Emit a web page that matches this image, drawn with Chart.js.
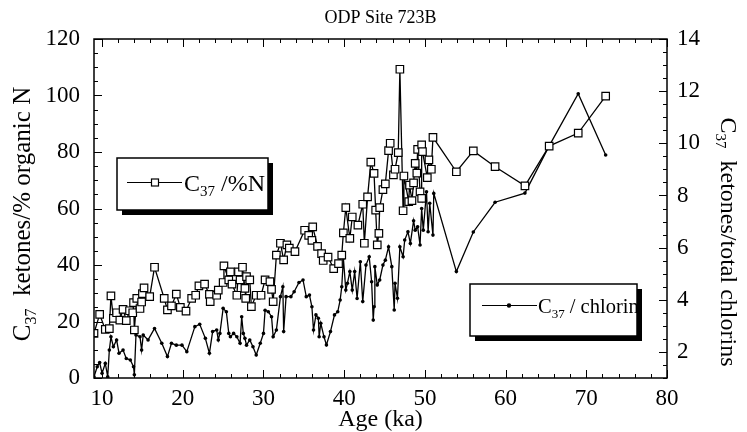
<!DOCTYPE html>
<html>
<head>
<meta charset="utf-8">
<script src="https://cdn.jsdelivr.net/npm/chart.js@4.4.1/dist/chart.umd.min.js"></script>
<style>
  html, body { margin: 0; padding: 0; background: #fff; }
</style>
</head>
<body>
<canvas id="chart" width="747" height="432"></canvas>
<script>
// C37 ketones / % organic N (left axis)
const ageN = [
  9.0, 9.7, 10.4, 10.9, 11.1, 11.4, 11.8, 12.2, 12.6, 13.0, 13.4, 13.8, 13.9, 14.0, 14.3, 14.7, 14.9, 15.0, 15.2, 15.9,
  16.5, 17.7, 18.1, 18.6, 19.2, 19.7, 20.4, 21.1, 21.6, 22.0, 22.7, 23.3, 23.4, 24.2, 24.4, 25.0, 25.1, 25.7, 25.9, 26.1,
  26.7, 26.9, 27.1, 27.4, 27.7, 27.8, 27.9, 28.3, 28.5, 29.1, 29.7, 30.2, 30.8, 31.0, 31.2, 31.6, 32.1, 32.5, 32.9, 33.2,
  33.9, 35.1, 35.6, 36.0, 36.1, 36.7, 37.2, 37.4, 38.0, 38.7, 39.3, 39.7, 39.9, 40.2, 40.7, 41.0, 41.7, 42.3, 42.5, 42.9,
  43.3, 43.7, 43.9, 44.1, 44.3, 44.4, 44.8, 45.1, 45.5, 45.7, 46.1, 46.3, 46.7, 46.9, 47.3, 47.4, 48.0, 48.1, 48.4, 48.6,
  48.8, 49.0, 49.1, 49.4, 49.6, 49.6, 49.7, 50.3, 50.5, 50.8, 51.0, 53.9, 56.0, 58.7, 62.4, 65.4, 69.0, 72.4
];
const ketN = [
  15.8, 22.5, 17.2, 17.5, 29.1, 21.1, 23.1, 20.5, 24.3, 20.3, 23.8, 23.1, 26.7, 17.0, 28.2, 24.6, 26.9, 29.9, 31.9, 28.8,
  39.2, 28.2, 24.1, 25.5, 29.7, 25.0, 23.7, 28.2, 29.3, 32.6, 33.2, 29.6, 27.0, 29.3, 31.1, 33.8, 39.7, 34.7, 37.6, 33.2,
  29.3, 37.6, 34.7, 39.2, 31.7, 28.2, 35.9, 34.7, 25.3, 29.3, 29.3, 34.7, 34.1, 31.4, 27.0, 43.5, 47.7, 41.8, 47.1, 46.0,
  44.7, 52.3, 50.5, 48.7, 53.5, 46.6, 44.0, 41.6, 42.8, 38.7, 40.5, 43.5, 51.4, 60.3, 49.4, 57.0, 54.1, 61.5, 47.7, 64.1,
  76.4, 72.4, 59.4, 47.1, 51.2, 60.3, 66.7, 68.7, 80.5, 83.1, 71.9, 73.9, 79.8, 109.3, 59.2, 71.5, 62.4, 68.3, 62.8, 69.1,
  76.0, 72.5, 80.9, 65.9, 63.6, 82.5, 80.1, 70.9, 77.2, 73.9, 85.2, 73.0, 80.4, 74.8, 68.0, 82.1, 86.7, 99.8
];

// C37 ketones / total chlorins (right axis)
const ageChl = [
  9.0, 9.4, 9.7, 10.0, 10.4, 10.7, 10.9, 11.1, 11.4, 11.8, 12.1, 12.6, 13.0, 13.5, 13.9, 14.0, 14.2, 14.7, 14.9, 15.1,
  15.7, 16.5, 17.4, 18.1, 18.6, 19.2, 19.9, 20.5, 21.5, 22.1, 22.8, 23.3, 23.7, 24.2, 24.4, 24.6, 25.0, 25.4, 25.7, 25.9,
  26.3, 26.7, 27.1, 27.3, 27.5, 27.7, 27.9, 28.3, 28.7, 29.1, 29.6, 30.0, 30.2, 30.6, 31.0, 31.2, 31.6, 32.1, 32.4, 32.5,
  32.8, 33.4, 33.8, 34.4, 34.9, 35.3, 35.7, 36.0, 36.2, 36.5, 36.8, 36.9, 37.1, 37.5, 37.8, 38.3, 38.8, 39.2, 39.5, 39.7,
  39.9, 40.2, 40.4, 40.7, 41.0, 41.3, 41.6, 42.0, 42.3, 42.7, 43.1, 43.4, 43.6, 43.7, 43.8, 44.1, 44.4, 44.8, 45.1, 45.5,
  45.9, 46.2, 46.3, 46.6, 46.9, 47.3, 47.5, 47.9, 48.2, 48.6, 48.8, 49.1, 49.4, 49.6, 49.8, 50.2, 50.4, 50.6, 51.0, 51.1,
  53.9, 56.0, 58.7, 62.4, 65.4, 69.0, 72.4
];
const ketChl = [
  1.05, 1.43, 1.59, 1.18, 1.56, 1.05, 2.07, 2.58, 2.20, 2.46, 1.95, 2.07, 1.75, 1.69, 1.43, 1.12, 2.65, 2.58, 2.07, 2.65,
  2.46, 2.90, 2.33, 1.82, 2.33, 2.26, 2.26, 2.01, 2.97, 3.06, 2.52, 1.95, 2.78, 2.84, 2.46, 2.71, 3.67, 3.54, 2.71, 2.58,
  2.71, 2.58, 2.33, 3.35, 2.71, 2.52, 2.26, 2.46, 2.20, 1.88, 2.33, 2.71, 3.60, 3.54, 3.35, 2.58, 2.84, 4.12, 4.50, 2.78,
  4.12, 4.12, 4.31, 4.66, 4.76, 4.12, 4.18, 3.73, 2.84, 3.42, 3.29, 2.58, 3.10, 2.58, 2.27, 2.78, 3.42, 3.54, 3.99, 4.50,
  5.59, 4.37, 4.63, 5.08, 4.37, 5.08, 4.05, 5.46, 3.93, 5.33, 5.65, 4.69, 3.22, 3.73, 5.27, 4.57, 4.76, 5.33, 5.52, 6.03,
  5.27, 3.61, 4.63, 4.06, 6.03, 5.65, 6.29, 6.61, 6.16, 7.03, 6.67, 6.80, 6.10, 7.50, 6.67, 8.14, 6.61, 7.70, 6.48, 8.08,
  5.08, 6.60, 7.74, 8.09, 9.90, 11.90, 9.55
];

const xTicks = [10, 20, 30, 40, 50, 60, 70, 80];
const leftTicks = [0, 20, 40, 60, 80, 100, 120];
const rightTicks = [2, 4, 6, 8, 10, 12, 14];

const serif = "'Liberation Serif', 'Times New Roman', serif";
Chart.defaults.font.family = serif;
Chart.defaults.color = "#000";

// text with a subscript part, parts = [[text, isSub], ...]
function drawRich(ctx, parts, x, y, size, align) {
  const subSize = Math.round(size * 0.62);
  let total = 0;
  parts.forEach(([t, sub]) => {
    ctx.font = `${sub ? subSize : size}px ${serif}`;
    total += ctx.measureText(t).width;
  });
  let cx = align === "center" ? x - total / 2 : x;
  ctx.fillStyle = "#000";
  ctx.textBaseline = "alphabetic";
  ctx.textAlign = "left";
  parts.forEach(([t, sub]) => {
    ctx.font = `${sub ? subSize : size}px ${serif}`;
    ctx.fillText(t, cx, sub ? y + size * 0.22 : y);
    cx += ctx.measureText(t).width;
  });
}

function legendBox(ctx, x, y, w, h) {
  ctx.fillStyle = "#000";
  ctx.fillRect(x + 5, y + 5, w, h);
  ctx.fillStyle = "#fff";
  ctx.fillRect(x, y, w, h);
  ctx.strokeStyle = "#000";
  ctx.lineWidth = 1.5;
  ctx.strokeRect(x, y, w, h);
  ctx.fillStyle = "#000";
}

const decorations = {
  id: "decorations",
  afterDatasetsDraw(chart) {
    const { ctx, chartArea: a, scales } = chart;
    ctx.save();
    ctx.strokeStyle = "#000";
    ctx.lineWidth = 1;
    ctx.beginPath();
    for (let v = 10; v <= 80; v += 2) {
      const px = Math.round(scales.x.getPixelForValue(v)) + 0.5;
      const len = v % 10 === 0 ? 8 : 4;
      ctx.moveTo(px, a.bottom); ctx.lineTo(px, a.bottom - len);
      ctx.moveTo(px, a.top); ctx.lineTo(px, a.top + len);
    }
    for (let v = 0; v <= 120; v += 5) {
      const py = Math.round(scales.y.getPixelForValue(v)) + 0.5;
      const len = v % 20 === 0 ? 8 : 4;
      ctx.moveTo(a.left, py); ctx.lineTo(a.left + len, py);
    }
    for (let v = 1; v <= 14; v += 0.5) {
      const py = Math.round(scales.y2.getPixelForValue(v)) + 0.5;
      const len = v % 2 === 0 ? 8 : 4;
      ctx.moveTo(a.right, py); ctx.lineTo(a.right - len, py);
    }
    ctx.stroke();
    ctx.lineWidth = 1.5;
    ctx.strokeRect(a.left, a.top, a.right - a.left, a.bottom - a.top);

    // legend boxes
    legendBox(ctx, 117, 158, 151, 52);
    ctx.lineWidth = 1.2;
    ctx.beginPath();
    ctx.moveTo(127, 182.5); ctx.lineTo(182, 182.5);
    ctx.stroke();
    ctx.fillStyle = "#fff";
    ctx.fillRect(151.5, 179, 7, 7);
    ctx.strokeRect(151.5, 179, 7, 7);
    drawRich(ctx, [["C", false], ["37", true], [" /%N", false]], 184, 191, 24, "left");

    legendBox(ctx, 470, 284, 167, 52);
    ctx.lineWidth = 1.2;
    ctx.beginPath();
    ctx.moveTo(482, 305.5); ctx.lineTo(537, 305.5);
    ctx.stroke();
    ctx.beginPath();
    ctx.arc(509, 305.5, 2.2, 0, Math.PI * 2);
    ctx.fill();
    drawRich(ctx, [["C", false], ["37", true], [" / chlorin", false]], 538, 313, 20.5, "left");

    // title and axis titles
    drawRich(ctx, [["ODP Site 723B", false]], (a.left + a.right) / 2, 23, 18, "center");
    drawRich(ctx, [["Age (ka)", false]], (a.left + a.right) / 2, 426, 24, "center");

    ctx.save();
    ctx.translate(30, 214);
    ctx.rotate(-Math.PI / 2);
    drawRich(ctx, [["C", false], ["37", true], ["  ketones/% organic N", false]], 0, 0, 25, "center");
    ctx.restore();

    ctx.save();
    ctx.translate(721, 242);
    ctx.rotate(Math.PI / 2);
    drawRich(ctx, [["C", false], ["37", true], ["  ketones/total chlorins", false]], 0, 0, 24, "center");
    ctx.restore();
    ctx.restore();
  },
};

const toPoints = (xs, ys) => xs.map((x, i) => ({ x: x, y: ys[i] }));

new Chart(document.getElementById("chart").getContext("2d"), {
  type: "scatter",
  data: {
    datasets: [
      {
        label: "C37/%N",
        data: toPoints(ageN, ketN),
        yAxisID: "y",
        showLine: true,
        borderColor: "#000",
        borderWidth: 1.3,
        pointStyle: "rect",
        pointRadius: 5.3,
        pointBackgroundColor: "#fff",
        pointBorderColor: "#000",
        pointBorderWidth: 1.2,
        tension: 0,
      },
      {
        label: "C37 / chlorin",
        data: toPoints(ageChl, ketChl),
        yAxisID: "y2",
        showLine: true,
        borderColor: "#000",
        borderWidth: 1.3,
        pointStyle: "circle",
        pointRadius: 1.8,
        pointBackgroundColor: "#000",
        pointBorderColor: "#000",
        pointBorderWidth: 0,
        tension: 0,
      },
    ],
  },
  options: {
    responsive: false,
    animation: false,
    layout: { padding: { top: 39, left: 0, right: 0, bottom: 0 } },
    plugins: { legend: { display: false }, tooltip: { enabled: false } },
    scales: {
      x: {
        type: "linear",
        min: 9,
        max: 80,
        afterBuildTicks: (s) => { s.ticks = xTicks.map((v) => ({ value: v })); },
        afterFit: (s) => { s.height = 54; },
        grid: { display: false, drawTicks: false },
        border: { display: false },
        ticks: { font: { size: 23 }, padding: 7, maxRotation: 0 },
      },
      y: {
        position: "left",
        min: 0,
        max: 120,
        afterBuildTicks: (s) => { s.ticks = leftTicks.map((v) => ({ value: v })); },
        afterFit: (s) => { s.width = 94; },
        grid: { display: false, drawTicks: false },
        border: { display: false },
        ticks: { font: { size: 23 }, padding: 14 },
      },
      y2: {
        position: "right",
        min: 1,
        max: 14,
        afterBuildTicks: (s) => { s.ticks = rightTicks.map((v) => ({ value: v })); },
        afterFit: (s) => { s.width = 80; },
        grid: { display: false, drawTicks: false },
        border: { display: false },
        ticks: { font: { size: 23 }, padding: 10 },
      },
    },
  },
  plugins: [decorations],
});
</script>
</body>
</html>
